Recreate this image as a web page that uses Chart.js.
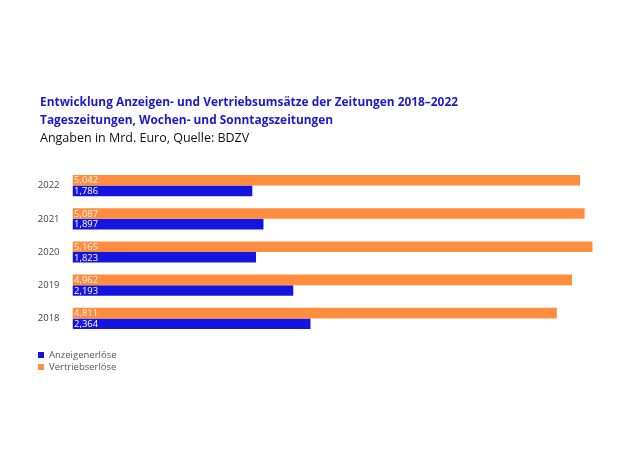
<!DOCTYPE html>
<html>
<head>
<meta charset="utf-8">
<script src="https://cdn.jsdelivr.net/npm/chart.js@4"></script>
<style>
  html, body { margin: 0; padding: 0; background: #fff; }
  #wrap { position: relative; width: 630px; height: 468px; font-family: "Open Sans", sans-serif; }
  #chart { position: absolute; left: 0; top: 0; }
  .t1, .t2 { position: absolute; left: 40px; color: #1a1acc; font-weight: 700; font-size: 11.9px; white-space: nowrap; }
  .t1 { top: 93px; }
  .t2 { top: 111px; }
  .t3 { position: absolute; left: 40px; top: 129px; color: #111; font-size: 12.5px; white-space: nowrap; }
  .legend { position: absolute; left: 38px; top: 349px; font-size: 9.5px; color: #555; line-height: 12px; }
  .legend span { display: inline-block; width: 6px; height: 6px; margin-right: 5px; vertical-align: 0px; }
</style>
</head>
<body>
<div id="wrap">
  <canvas id="chart" width="630" height="468"></canvas>
  <div class="t1">Entwicklung Anzeigen- und Vertriebsumsätze der Zeitungen 2018–2022</div>
  <div class="t2">Tageszeitungen, Wochen- und Sonntagszeitungen</div>
  <div class="t3">Angaben in Mrd. Euro, Quelle: BDZV</div>
  <div class="legend">
    <div><span style="background:#1414e0"></span>Anzeigenerlöse</div>
    <div><span style="background:#ff8c3f"></span>Vertriebserlöse</div>
  </div>
</div>
<script>
// years, top to bottom as in the picture
const years = ['2022', '2021', '2020', '2019', '2018'];
// Mrd. Euro
const vertrieb = [5.042, 5.087, 5.165, 4.962, 4.811];
const anzeigen = [1.786, 1.897, 1.823, 2.193, 2.364];

const blue = '#1414e0';
const orange = '#ff8c3f';

function fmt(v) {
  return v.toFixed(3).replace('.', ',');
}

// white value labels at the start of each bar
const valueLabels = {
  id: 'valueLabels',
  afterDatasetsDraw(chart) {
    const ctx = chart.ctx;
    ctx.save();
    ctx.font = '9.5px "Open Sans", sans-serif';
    ctx.textBaseline = 'middle';
    chart.data.datasets.forEach((ds, i) => {
      const meta = chart.getDatasetMeta(i);
      ctx.fillStyle = i === 0 ? '#fff3e6' : '#ffffff';
      meta.data.forEach((bar, j) => {
        ctx.fillText(fmt(ds.data[j]), bar.base + 1.5, bar.y + 0.5);
      });
    });
    ctx.restore();
  }
};

new Chart(document.getElementById('chart'), {
  type: 'bar',
  data: {
    labels: years,
    datasets: [
      { label: 'Vertriebserlöse', data: vertrieb, backgroundColor: orange },
      { label: 'Anzeigenerlöse', data: anzeigen, backgroundColor: blue }
    ]
  },
  options: {
    indexAxis: 'y',
    responsive: false,
    animation: false,
    events: [],
    layout: { padding: { top: 169, bottom: 133, left: 0, right: 34 } },
    categoryPercentage: 0.64,
    barPercentage: 1.0,
    plugins: { legend: { display: false }, tooltip: { enabled: false } },
    scales: {
      x: { display: false, min: 0, max: 5.2 },
      y: {
        grid: { display: false },
        border: { display: false },
        afterFit(s) { s.width = 72.5; },
        ticks: { padding: 5, color: '#444', font: { family: 'Open Sans', size: 9.5 } }
      }
    }
  },
  plugins: [valueLabels]
});
</script>
</body>
</html>
